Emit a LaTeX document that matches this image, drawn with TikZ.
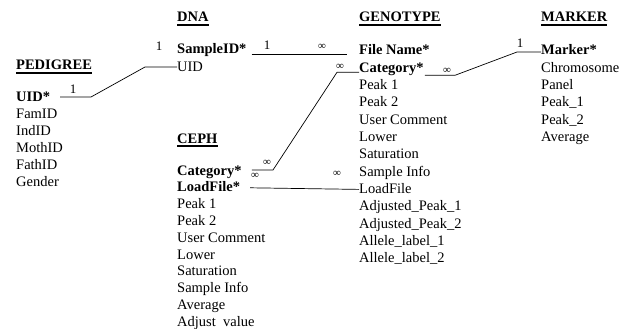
\documentclass[tikz,border=0pt]{standalone}
\usepackage{fontspec}
\setmainfont{Liberation Serif}
\usetikzlibrary{calc}
\begin{document}
\begin{tikzpicture}[x=1pt,y=1pt,
  fld/.style={anchor=base west, inner sep=0pt, font=\fontsize{14.5}{17}\selectfont},
  keyfld/.style={fld, font=\fontsize{14.5}{17}\selectfont\bfseries},
  ttl/.style={keyfld},
  ul/.style={line width=1.1pt},
  lnk/.style={line width=0.7pt},
  inf/.style={inner sep=0pt, font=\fontsize{11}{12}\selectfont},
  one/.style={inner sep=0pt, font=\fontsize{13}{14}\selectfont}]
\useasboundingbox[fill=white] (0,0) rectangle (632,-329);

% table titles
\node[ttl] (tP) at (16,-70)  {PEDIGREE};
\node[ttl] (tD) at (177,-22) {DNA};
\node[ttl] (tC) at (177,-143) {CEPH};
\node[ttl] (tG) at (359,-22) {GENOTYPE};
\node[ttl] (tM) at (541,-22) {MARKER};
\foreach \t in {tP,tD,tC,tG,tM}
  \draw[ul] ([yshift=-3pt]\t.base west) -- ([yshift=-3pt]\t.base east);

% PEDIGREE
\node[keyfld] (p1) at (16,-102) {UID*};
\foreach \t [count=\i from 2] in {FamID,IndID,MothID,FathID,Gender}
  \node[fld] (p\i) at (16,{-102-16.8*(\i-1)}) {\t};

% DNA
\node[keyfld] (d1) at (177,-54) {SampleID*};
\node[fld] (d2) at (177,-71) {UID};

% CEPH
\node[keyfld] (c1) at (177,-175) {Category*};
\node[keyfld] (c2) at (177,-191.8) {LoadFile*};
\foreach \t [count=\i from 3] in {Peak 1,Peak 2,User Comment,Lower,Saturation,Sample Info,Average,Adjust\enspace value}
  \node[fld] (c\i) at (177,{-175-16.8*(\i-1)}) {\t};

% GENOTYPE
\node[keyfld] (g1) at (359,-55) {File Name*};
\node[keyfld] (g2) at (359,-72.3) {Category*};
\foreach \t [count=\i from 3] in {Peak 1,Peak 2,User Comment,Lower,Saturation,Sample Info,LoadFile,Adjusted\_Peak\_1,Adjusted\_Peak\_2,Allele\_label\_1,Allele\_label\_2}
  \node[fld] (g\i) at (359,{-55-17.3*(\i-1)}) {\t};

% MARKER
\node[keyfld] (m1) at (541,-55) {Marker*};
\foreach \t [count=\i from 2] in {Chromosome,Panel,Peak\_1,Peak\_2,Average}
  \node[fld] (m\i) at (541,{-55-17.3*(\i-1)}) {\t};

% PEDIGREE.UID -- DNA.UID
\coordinate (a1) at (91,-97);
\coordinate (a2) at (145,-67);
\draw[lnk] ([xshift=10pt,yshift=5pt]p1.base east) -- (a1) -- (a2) -- ([yshift=4pt]d2.base west);
\node[one] (n1) at (73,-89) {1};
\node[one] (n2) at (159,-46) {1};

% DNA.SampleID -- GENOTYPE.File Name
\draw[lnk] ([xshift=5pt]d1.base east) -- ([xshift=-12pt,yshift=1pt]g1.base west);
\node[one] (n3) at (267,-45) {1};
\node[inf] (i1) at (322,-47) {∞};

% CEPH.Category -- GENOTYPE.Category
\coordinate (b1) at (273,-170);
\coordinate (b2) at ($(g2.base west)+(-22,0)$);
\draw[lnk] ([xshift=10pt,yshift=5pt]c1.base east) -- (b1) -- (b2) -- (g2.base west);
\node[inf] (i2) at (267,-163) {∞};
\node[inf] (i3) at (255,-176) {∞};
\node[inf] (i4) at (340,-67) {∞};

% CEPH.LoadFile -- GENOTYPE.LoadFile
\draw[lnk] ([xshift=10pt,yshift=4pt]c2.base east) -- ([yshift=4pt]g9.base west);
\node[inf] (i5) at (337,-174) {∞};

% GENOTYPE.Category -- MARKER.Marker
\coordinate (k1) at (455,-75.3);
\coordinate (k2) at (517,-52);
\draw[lnk] ([xshift=1pt,yshift=-3pt]g2.base east) -- (k1) -- (k2) -- ([yshift=3pt]m1.base west);
\node[inf] (i6) at (447,-71) {∞};
\node[one] (n4) at (520,-43) {1};
\end{tikzpicture}
\end{document}
